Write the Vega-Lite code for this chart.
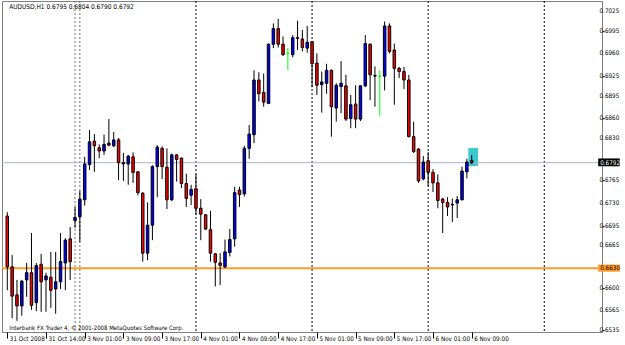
{
  "$schema": "https://vega.github.io/schema/vega-lite/v6.json",
  "width": 600,
  "height": 331,
  "autosize": {"type": "none"},
  "padding": {"left": 2, "top": 1, "right": 23, "bottom": 13},
  "background": "white",
  "config": {
    "view": {"stroke": "#808080", "strokeWidth": 1},
    "font": "Liberation Sans Narrow, DejaVu Sans Condensed, sans-serif",
    "axis": {"labelOverlap": false, "labelFlush": false, "grid": false, "title": null, "labelFontSize": 6.3, "labelColor": "#000000", "tickColor": "#000000"},
    "axisX": {"labelAlign": "left", "labelOffset": 2, "labelBaseline": "top", "labelPadding": -3, "tickSize": 6, "domain": false},
    "axisY": {"tickSize": 2, "labels": false, "domain": true, "domainColor": "#808080"}
  },
  "datasets": {
    "candles": [
      {"i":0,"o":0.6710,"h":0.6716,"l":0.6596,"c":0.6632},
      {"i":1,"o":0.6632,"h":0.6650,"l":0.6553,"c":0.6587},
      {"i":2,"o":0.6589,"h":0.6612,"l":0.6549,"c":0.6572},
      {"i":3,"o":0.6572,"h":0.6612,"l":0.6557,"c":0.6610},
      {"i":4,"o":0.6612,"h":0.6638,"l":0.6586,"c":0.6623},
      {"i":5,"o":0.6623,"h":0.6684,"l":0.6566,"c":0.6573},
      {"i":6,"o":0.6577,"h":0.6638,"l":0.6564,"c":0.6634},
      {"i":7,"o":0.6636,"h":0.6652,"l":0.6563,"c":0.6609},
      {"i":8,"o":0.6612,"h":0.6623,"l":0.6563,"c":0.6618},
      {"i":9,"o":0.6616,"h":0.6655,"l":0.6569,"c":0.6596},
      {"i":10,"o":0.6598,"h":0.6655,"l":0.6560,"c":0.6609},
      {"i":11,"o":0.6609,"h":0.6684,"l":0.6598,"c":0.6640},
      {"i":12,"o":0.6638,"h":0.6676,"l":0.6596,"c":0.6673},
      {"i":13,"o":0.6675,"h":0.6693,"l":0.6612,"c":0.6640},
      {"i":14,"o":0.6703,"h":0.6724,"l":0.6692,"c":0.6708},
      {"i":15,"o":0.6709,"h":0.6749,"l":0.6670,"c":0.6736},
      {"i":16,"o":0.6735,"h":0.6801,"l":0.6726,"c":0.6790},
      {"i":17,"o":0.6789,"h":0.6842,"l":0.6781,"c":0.6824},
      {"i":18,"o":0.6825,"h":0.6836,"l":0.6778,"c":0.6818},
      {"i":19,"o":0.6815,"h":0.6820,"l":0.6799,"c":0.6810},
      {"i":20,"o":0.6810,"h":0.6835,"l":0.6804,"c":0.6820},
      {"i":21,"o":0.6822,"h":0.6859,"l":0.6817,"c":0.6819},
      {"i":22,"o":0.6818,"h":0.6839,"l":0.6816,"c":0.6827},
      {"i":23,"o":0.6827,"h":0.6830,"l":0.6765,"c":0.6792},
      {"i":24,"o":0.6792,"h":0.6807,"l":0.6764,"c":0.6790},
      {"i":25,"o":0.6790,"h":0.6804,"l":0.6758,"c":0.6802},
      {"i":26,"o":0.6801,"h":0.6808,"l":0.6761,"c":0.6777},
      {"i":27,"o":0.6778,"h":0.6779,"l":0.6742,"c":0.6746},
      {"i":28,"o":0.6745,"h":0.6747,"l":0.6640,"c":0.6653},
      {"i":29,"o":0.6653,"h":0.6731,"l":0.6642,"c":0.6696},
      {"i":30,"o":0.6696,"h":0.6788,"l":0.6673,"c":0.6786},
      {"i":31,"o":0.6786,"h":0.6819,"l":0.6739,"c":0.6816},
      {"i":32,"o":0.6814,"h":0.6817,"l":0.6767,"c":0.6786},
      {"i":33,"o":0.6785,"h":0.6814,"l":0.6721,"c":0.6735},
      {"i":34,"o":0.6735,"h":0.6806,"l":0.6733,"c":0.6804},
      {"i":35,"o":0.6804,"h":0.6805,"l":0.6763,"c":0.6797},
      {"i":36,"o":0.6799,"h":0.6800,"l":0.6753,"c":0.6760},
      {"i":37,"o":0.6760,"h":0.6775,"l":0.6724,"c":0.6737},
      {"i":38,"o":0.6742,"h":0.6758,"l":0.6727,"c":0.6751},
      {"i":39,"o":0.6752,"h":0.6774,"l":0.6712,"c":0.6722},
      {"i":40,"o":0.6722,"h":0.6736,"l":0.6673,"c":0.6713},
      {"i":41,"o":0.6712,"h":0.6713,"l":0.6689,"c":0.6690},
      {"i":42,"o":0.6689,"h":0.6718,"l":0.6640,"c":0.6653},
      {"i":43,"o":0.6652,"h":0.6653,"l":0.6602,"c":0.6639},
      {"i":44,"o":0.6638,"h":0.6653,"l":0.6604,"c":0.6634},
      {"i":45,"o":0.6632,"h":0.6674,"l":0.6630,"c":0.6655},
      {"i":46,"o":0.6654,"h":0.6690,"l":0.6648,"c":0.6674},
      {"i":47,"o":0.6675,"h":0.6755,"l":0.6663,"c":0.6746},
      {"i":48,"o":0.6750,"h":0.6755,"l":0.6724,"c":0.6743},
      {"i":49,"o":0.6744,"h":0.6818,"l":0.6740,"c":0.6814},
      {"i":50,"o":0.6814,"h":0.6850,"l":0.6798,"c":0.6836},
      {"i":51,"o":0.6835,"h":0.6934,"l":0.6822,"c":0.6919},
      {"i":52,"o":0.6919,"h":0.6931,"l":0.6886,"c":0.6898},
      {"i":53,"o":0.6900,"h":0.6929,"l":0.6878,"c":0.6885},
      {"i":54,"o":0.6883,"h":0.6975,"l":0.6882,"c":0.6974},
      {"i":55,"o":0.6974,"h":0.7006,"l":0.6968,"c":0.6998},
      {"i":56,"o":0.6998,"h":0.7013,"l":0.6969,"c":0.6974},
      {"i":57,"o":0.6974,"h":0.6986,"l":0.6956,"c":0.6958},
      {"i":58,"o":0.6960,"h":0.6968,"l":0.6934,"c":0.6960},
      {"i":59,"o":0.6958,"h":0.6988,"l":0.6954,"c":0.6984},
      {"i":60,"o":0.6984,"h":0.7010,"l":0.6965,"c":0.6983},
      {"i":61,"o":0.6982,"h":0.6996,"l":0.6963,"c":0.6969},
      {"i":62,"o":0.6968,"h":0.7002,"l":0.6961,"c":0.6977},
      {"i":63,"o":0.6978,"h":0.6979,"l":0.6908,"c":0.6944},
      {"i":64,"o":0.6945,"h":0.6960,"l":0.6896,"c":0.6911},
      {"i":65,"o":0.6912,"h":0.6932,"l":0.6869,"c":0.6916},
      {"i":66,"o":0.6914,"h":0.6944,"l":0.6898,"c":0.6934},
      {"i":67,"o":0.6934,"h":0.6935,"l":0.6832,"c":0.6878},
      {"i":68,"o":0.6876,"h":0.6914,"l":0.6855,"c":0.6911},
      {"i":69,"o":0.6909,"h":0.6948,"l":0.6868,"c":0.6914},
      {"i":70,"o":0.6910,"h":0.6927,"l":0.6856,"c":0.6859},
      {"i":71,"o":0.6860,"h":0.6896,"l":0.6845,"c":0.6881},
      {"i":72,"o":0.6882,"h":0.6911,"l":0.6845,"c":0.6859},
      {"i":73,"o":0.6859,"h":0.6911,"l":0.6856,"c":0.6910},
      {"i":74,"o":0.6910,"h":0.6988,"l":0.6908,"c":0.6975},
      {"i":75,"o":0.6974,"h":0.6975,"l":0.6888,"c":0.6927},
      {"i":76,"o":0.6925,"h":0.6940,"l":0.6878,"c":0.6926},
      {"i":77,"o":0.6925,"h":0.6934,"l":0.6864,"c":0.6925},
      {"i":78,"o":0.6925,"h":0.7009,"l":0.6903,"c":0.7002},
      {"i":79,"o":0.7002,"h":0.7006,"l":0.6960,"c":0.6963},
      {"i":80,"o":0.6965,"h":0.6975,"l":0.6881,"c":0.6937},
      {"i":81,"o":0.6937,"h":0.6939,"l":0.6922,"c":0.6932},
      {"i":82,"o":0.6932,"h":0.6939,"l":0.6905,"c":0.6919},
      {"i":83,"o":0.6919,"h":0.6927,"l":0.6831,"c":0.6832},
      {"i":84,"o":0.6832,"h":0.6855,"l":0.6807,"c":0.6809},
      {"i":85,"o":0.6813,"h":0.6814,"l":0.6761,"c":0.6764},
      {"i":86,"o":0.6767,"h":0.6802,"l":0.6765,"c":0.6793},
      {"i":87,"o":0.6795,"h":0.6808,"l":0.6756,"c":0.6777},
      {"i":88,"o":0.6777,"h":0.6782,"l":0.6747,"c":0.6761},
      {"i":89,"o":0.6761,"h":0.6774,"l":0.6722,"c":0.6734},
      {"i":90,"o":0.6736,"h":0.6738,"l":0.6684,"c":0.6731},
      {"i":91,"o":0.6731,"h":0.6739,"l":0.6710,"c":0.6724},
      {"i":92,"o":0.6728,"h":0.6737,"l":0.6701,"c":0.6727},
      {"i":93,"o":0.6730,"h":0.6741,"l":0.6707,"c":0.6735},
      {"i":94,"o":0.6735,"h":0.6786,"l":0.6734,"c":0.6779},
      {"i":95,"o":0.6778,"h":0.6798,"l":0.6768,"c":0.6793},
      {"i":96,"o":0.6795,"h":0.6804,"l":0.6790,"c":0.6792}
    ],
    "separators": [{"i":14,"d":"a"},{"i":15,"d":"a"},{"i":39,"d":"b"},{"i":63,"d":"b"},{"i":87,"d":"b"},{"i":111,"d":"b"}],
    "ylabels": [{"v":0.7025},{"v":0.6995},{"v":0.6960},{"v":0.6925},{"v":0.6895},{"v":0.6860},{"v":0.6830},{"v":0.6765},{"v":0.6730},{"v":0.6695},{"v":0.6665},{"v":0.6600},{"v":0.6565},{"v":0.6535}]
  },
  "layer": [
    {
      "data": {"values": [{}]},
      "mark": {"type": "rect", "color": "#3cc8d0"},
      "encoding": {
        "x": {"datum": 95.3, "type": "quantitative", "scale": {"domain": [-0.06, 121.9], "nice": false, "zero": false},
          "axis": {"orient": "bottom", "values": [0,8,16,24,32,40,48,56,64,72,80,88,96],
            "labelExpr": "['31 Oct 2008','31 Oct 14:00','3 Nov 01:00','3 Nov 09:00','3 Nov 17:00','4 Nov 01:00','4 Nov 09:00','4 Nov 17:00','5 Nov 01:00','5 Nov 09:00','5 Nov 17:00','6 Nov 01:00','6 Nov 09:00'][datum.value/8]"}},
        "x2": {"datum": 97.3},
        "y": {"datum": 0.67869, "type": "quantitative", "scale": {"domain": [0.65319, 0.70404], "nice": false, "zero": false},
          "axis": {"orient": "right", "values": [0.7025,0.6995,0.6960,0.6925,0.6895,0.6860,0.6830,0.6765,0.6730,0.6695,0.6665,0.6600,0.6565,0.6535]}},
        "y2": {"datum": 0.68146}
      }
    },
    {
      "data": {"name": "separators"},
      "mark": {"type": "rule", "strokeWidth": 1, "strokeDash": [2, 2]},
      "encoding": {
        "x": {"field": "i", "type": "quantitative"},
        "color": {"condition": {"test": "datum.d == 'a'", "value": "#707070"}, "value": "#000000"}
      }
    },
    {
      "data": {"values": [{}]},
      "mark": {"type": "rule", "color": "#aab4d2", "strokeWidth": 1},
      "encoding": {"y": {"datum": 0.6792, "type": "quantitative"}}
    },
    {
      "data": {"values": [{}]},
      "mark": {"type": "rule", "color": "#ff9c2a", "strokeWidth": 2},
      "encoding": {"y": {"datum": 0.6630, "type": "quantitative"}}
    },
    {
      "data": {"name": "candles"},
      "mark": {"type": "rule", "strokeWidth": 1},
      "encoding": {
        "x": {"field": "i", "type": "quantitative"},
        "y": {"field": "l", "type": "quantitative"},
        "y2": {"field": "h"},
        "color": {"condition": {"test": "datum.c == datum.o", "value": "#00ff00"}, "value": "#000000"}
      }
    },
    {
      "data": {"name": "candles"},
      "mark": {"type": "bar", "size": 2.5, "strokeWidth": 1},
      "encoding": {
        "x": {"field": "i", "type": "quantitative"},
        "y": {"field": "o", "type": "quantitative"},
        "y2": {"field": "c"},
        "fill": {"condition": [{"test": "datum.c > datum.o", "value": "#0000ff"}, {"test": "datum.c < datum.o", "value": "#ff0000"}], "value": "#00ff00"},
        "stroke": {"condition": {"test": "datum.c == datum.o", "value": "#00ff00"}, "value": "#000000"}
      }
    },
    {
      "data": {"name": "ylabels"},
      "mark": {"type": "text", "align": "left", "baseline": "middle", "fontSize": 6.3, "color": "#000000", "clip": false, "dx": 2.5},
      "encoding": {
        "x": {"datum": 121.9, "type": "quantitative"},
        "y": {"field": "v", "type": "quantitative"},
        "text": {"field": "v", "type": "quantitative", "format": ".4f"}
      }
    },
    {
      "data": {"values": [{}]},
      "mark": {"type": "rect", "color": "#000000", "clip": false},
      "encoding": {"x": {"datum": 122.15, "type": "quantitative"}, "x2": {"datum": 126.6}, "y": {"datum": 0.67865, "type": "quantitative"}, "y2": {"datum": 0.67985}}
    },
    {
      "data": {"values": [{}]},
      "mark": {"type": "rect", "color": "#ff9c2a", "clip": false},
      "encoding": {"x": {"datum": 122.15, "type": "quantitative"}, "x2": {"datum": 126.6}, "y": {"datum": 0.66245, "type": "quantitative"}, "y2": {"datum": 0.66355}}
    },
    {
      "data": {"values": [{"t": "0.6792", "p": 0.6792, "col": "w"}, {"t": "0.6630", "p": 0.6630, "col": "k"}]},
      "mark": {"type": "text", "align": "left", "baseline": "middle", "fontSize": 6.3, "clip": false, "dx": 2},
      "encoding": {
        "x": {"datum": 122.15, "type": "quantitative"},
        "y": {"field": "p", "type": "quantitative"},
        "text": {"field": "t"},
        "color": {"condition": {"test": "datum.col == 'w'", "value": "#ffffff"}, "value": "#000000"}
      }
    },
    {
      "data": {"values": [{"t": "AUDUSD,H1  0.6795 0.6804 0.6790 0.6792"}]},
      "mark": {"type": "text", "align": "left", "baseline": "middle", "fontSize": 6.5, "color": "#000000", "dx": 2},
      "encoding": {"x": {"datum": 0, "type": "quantitative"}, "y": {"datum": 0.70311, "type": "quantitative"}, "text": {"field": "t"}}
    },
    {
      "data": {"values": [{"t": "Interbank FX Trader 4, © 2001-2008 MetaQuotes Software Corp."}]},
      "mark": {"type": "text", "align": "left", "baseline": "middle", "fontSize": 6, "color": "#000000", "dx": 2},
      "encoding": {"x": {"datum": 0, "type": "quantitative"}, "y": {"datum": 0.65381, "type": "quantitative"}, "text": {"field": "t"}}
    }
  ]
}
